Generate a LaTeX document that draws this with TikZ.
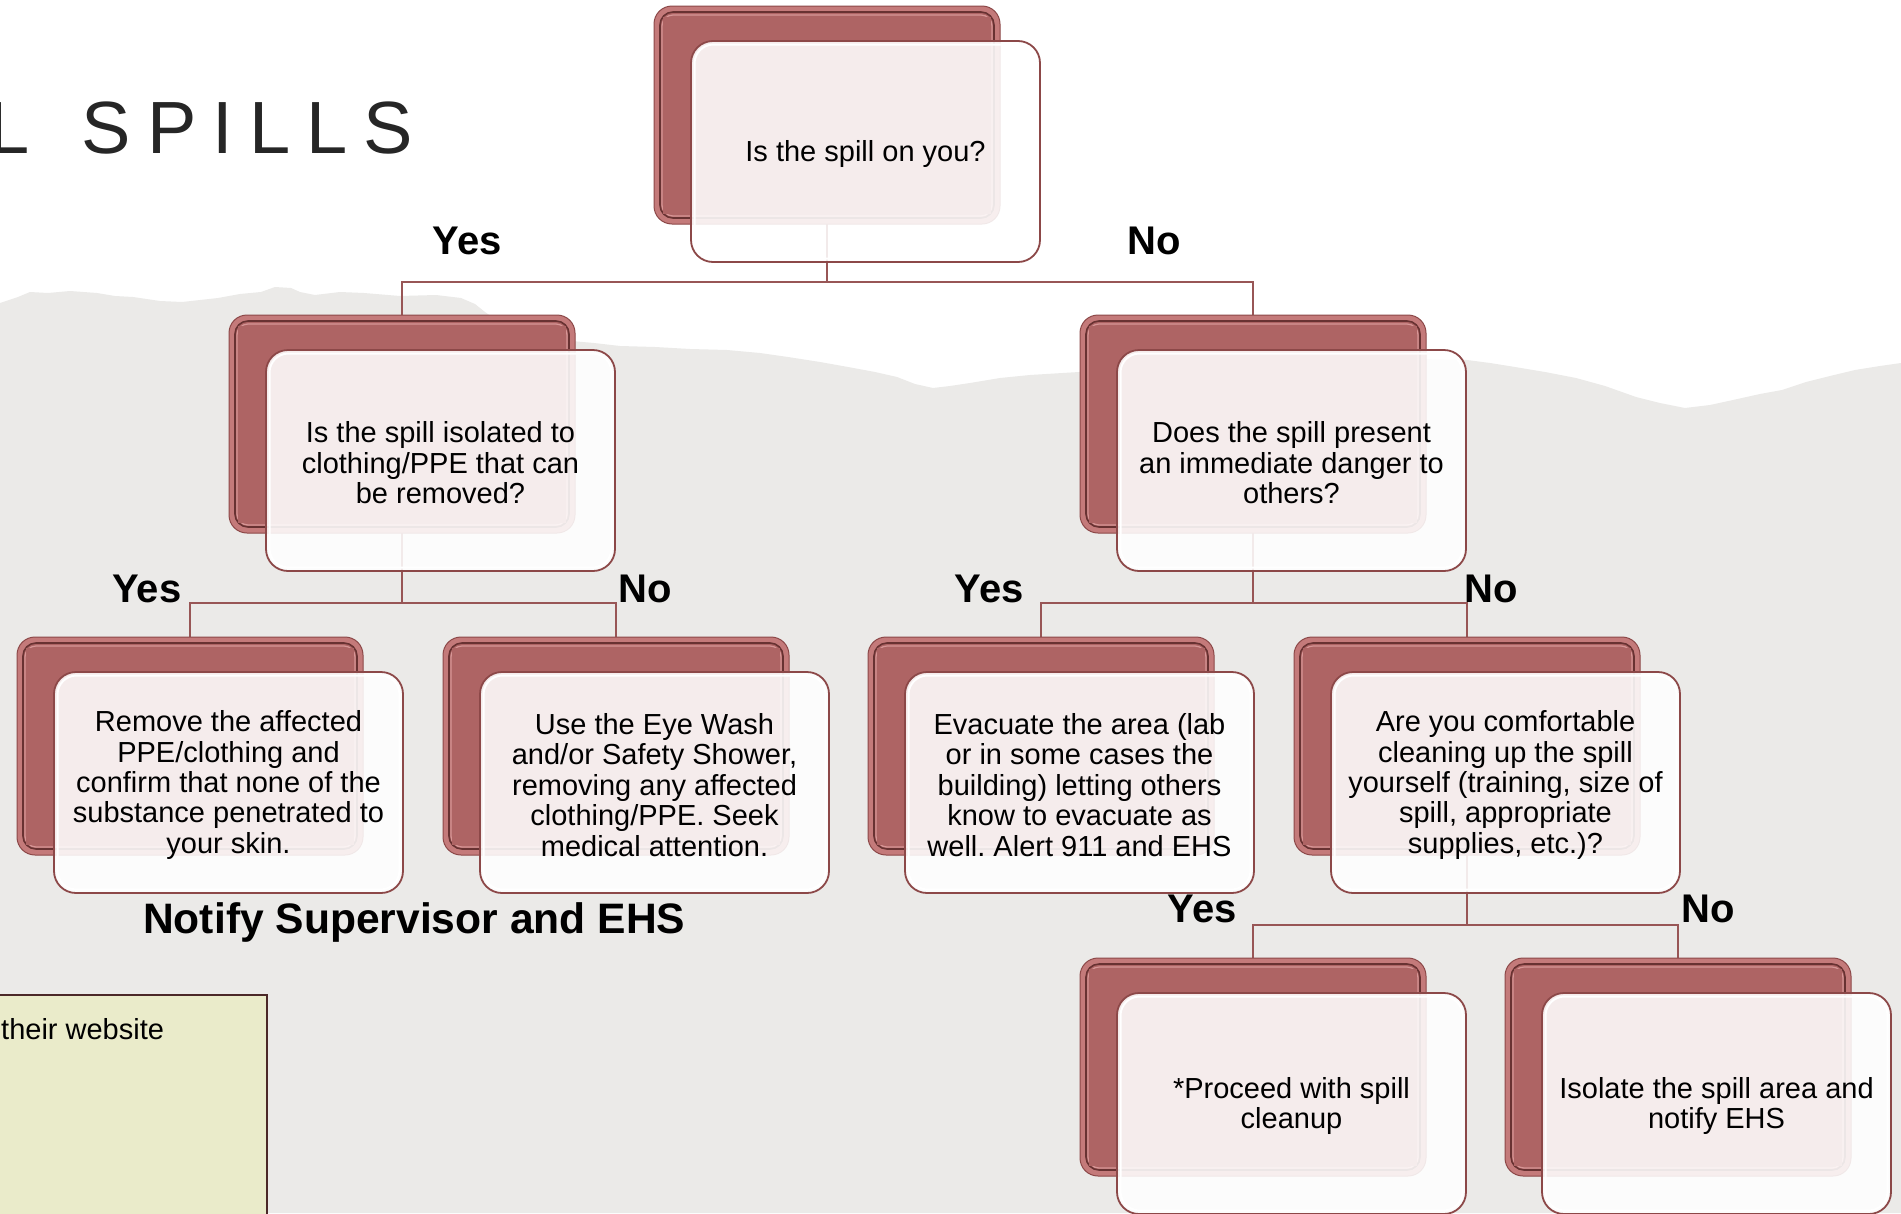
\documentclass[tikz,border=0pt]{standalone}
\usepackage{fontspec}
\setmainfont{Liberation Sans}
\usetikzlibrary{calc}
\frenchspacing
\pgfdeclarelayer{bg}
\pgfdeclarelayer{conn}
\pgfsetlayers{bg,conn,main}
\definecolor{paper}{RGB}{235,234,232}
\definecolor{rimred}{RGB}{196,122,122}
\definecolor{facered}{RGB}{174,100,100}
\definecolor{darkred}{RGB}{104,50,50}
\definecolor{lightline}{RGB}{214,150,150}
\definecolor{edgered}{RGB}{140,72,72}
\definecolor{connred}{RGB}{152,86,86}
\definecolor{titlegray}{RGB}{38,38,38}
\definecolor{notefill}{RGB}{234,235,202}
\definecolor{noteedge}{RGB}{75,40,40}
\tikzset{
  backbox/.style={draw=edgered, line width=1pt, fill=rimred, rounded corners=18pt,
    minimum width=346pt, minimum height=218pt, inner sep=0pt, outer sep=0pt, anchor=north west},
  innerframe/.style={draw=darkred, line width=1.6pt, fill=facered, rounded corners=13pt},
  innerhl/.style={draw=lightline, line width=1.2pt, rounded corners=11pt},
  frontbox/.style={draw=edgered, line width=1.8pt, fill=white, fill opacity=0.88, rounded corners=22pt,
    minimum width=349pt, minimum height=221pt, inner sep=0pt, outer sep=0pt, anchor=north west},
  fronthl/.style={draw=white, line width=2pt, rounded corners=19pt},
  nodetext/.style={align=center, inner sep=0pt, text=black, font=\fontsize{29}{30.4}\selectfont},
  yn/.style={anchor=base, inner sep=0pt, font=\fontsize{40}{44}\selectfont\bfseries},
  conn/.style={draw=connred, line width=2pt},
}
\newcommand{\qnode}[4]{%
  \node[backbox] (#1b) at (#2,#3) {};
  \draw[innerframe] ($(#1b.north west)+(6,6)$) rectangle ($(#1b.south east)+(-6,-6)$);
  \draw[innerhl] ($(#1b.north west)+(8,9)$) rectangle ($(#1b.south east)+(-8,-8)$);
  \fill[facered] ($(#1b.north west)+(9,11)$) rectangle ($(#1b.south east)+(-9,-10)$);
  \node[frontbox] (#1) at ($(#2,#3)+(37,35)$) {};
  \draw[fronthl] ($(#1.north west)+(3.5,3.5)$) rectangle ($(#1.south east)+(-3.5,-3.5)$);
  \node[nodetext] (#1t) at ($(#1.center)+(0,2.5)$) {#4};
}
\begin{document}
\begin{tikzpicture}[x=1pt,y=-1pt]
\useasboundingbox (0,0) rectangle (1901,1213);
\begin{pgfonlayer}{bg}
\fill[white] (0,0) rectangle (1901,1213);
\fill[paper] (0,303) -- (18,297) -- (30,292) -- (48,293) -- (70,291) -- (97,293) -- (115,296) -- (133,297)
  -- (160,301) -- (182,302) -- (200,300) -- (218,298) -- (240,294) -- (261,292) -- (275,287) -- (291,288)
  -- (300,292) -- (315,295) -- (340,292) -- (364,293) -- (400,296) -- (436,295) -- (461,298) -- (475,304)
  -- (485,312) -- (505,326) -- (533,337) -- (560,340) -- (594,343) -- (620,346) -- (655,347) -- (690,349)
  -- (727,350) -- (760,353) -- (788,357) -- (820,362) -- (848,367) -- (875,372) -- (897,377) -- (915,384)
  -- (933,388) -- (950,386) -- (970,383) -- (1000,378) -- (1030,375) -- (1079,372) -- (1150,368)
  -- (1250,364) -- (1350,361) -- (1420,359) -- (1467,360) -- (1490,363) -- (1515,367) -- (1545,372)
  -- (1576,378) -- (1605,386) -- (1636,397) -- (1660,403) -- (1685,408) -- (1710,405) -- (1733,400)
  -- (1760,394) -- (1782,390) -- (1806,382) -- (1830,376) -- (1855,370) -- (1880,366) -- (1901,363)
  -- (1901,1213) -- (0,1213) -- cycle;
\end{pgfonlayer}

% title
\node[anchor=base west, inner sep=0pt, text=titlegray, font=\fontsize{74}{80}\selectfont] (title)
  at (-12,153) {L\kern16pt\ \kern16pt S\kern16pt P\kern16pt I\kern16pt L\kern16pt L\kern16pt S};

% note box
\node[draw=noteedge, line width=2pt, fill=notefill, anchor=north west, minimum width=276pt,
  minimum height=240pt, inner sep=0pt] (note) at (-10,994) {};
\node[anchor=base west, inner sep=0pt, font=\fontsize{29}{30}\selectfont] (notetext) at (1,1039) {their website};

% nodes
\qnode{n1}{654}{6}{Is the spill on you?}
\qnode{n2}{229}{315}{Is the spill isolated to\\clothing/PPE that can\\be removed?}
\qnode{n3}{1080}{315}{Does the spill present\\an immediate danger to\\others?}
\qnode{n4}{17}{637}{Remove the affected\\PPE/clothing and\\confirm that none of the\\substance penetrated to\\your skin.}
\qnode{n5}{443}{637}{Use the Eye Wash\\and/or Safety Shower,\\removing any affected\\clothing/PPE. Seek\\medical attention.}
\qnode{n6}{868}{637}{Evacuate the area (lab\\or in some cases the\\building) letting others\\know to evacuate as\\well. Alert 911 and EHS}
\qnode{n7}{1294}{637}{Are you comfortable\\cleaning up the spill\\yourself (training, size of\\spill, appropriate\\supplies, etc.)?}
\qnode{n8}{1080}{958}{*Proceed with spill\\cleanup}
\qnode{n9}{1505}{958}{Isolate the spill area and\\notify EHS}

% connectors
\coordinate (bar1) at (0,282);
\coordinate (bar2) at (0,603);
\coordinate (bar3) at (0,925);
\begin{pgfonlayer}{conn}
\draw[conn] (n1b.south) -- (n1b.south |- bar1) -| (n2b.north);
\draw[conn] (n1b.south |- bar1) -| (n3b.north);
\draw[conn] (n2b.south) -- (n2b.south |- bar2) -| (n4b.north);
\draw[conn] (n2b.south |- bar2) -| (n5b.north);
\draw[conn] (n3b.south) -- (n3b.south |- bar2) -| (n6b.north);
\draw[conn] (n3b.south |- bar2) -| (n7b.north);
\draw[conn] (n7b.south) -- (n7b.south |- bar3) -| (n8b.north);
\draw[conn] (n7b.south |- bar3) -| (n9b.north);
\end{pgfonlayer}

% labels
\node[yn] (y1) at (467,254) {Yes};
\node[yn] (no1) at (1154,254) {No};
\node[yn] (y2) at (147,602) {Yes};
\node[yn] (no2) at (645,602) {No};
\node[yn] (y3) at (989,602) {Yes};
\node[yn] (no3) at (1491,602) {No};
\node[yn] (y4) at (1202,922) {Yes};
\node[yn] (no4) at (1708,922) {No};

\node[anchor=base west, inner sep=0pt, font=\fontsize{42.6}{46}\selectfont\bfseries] (notify)
  at (143,933) {Notify Supervisor and EHS};
\end{tikzpicture}
\end{document}
